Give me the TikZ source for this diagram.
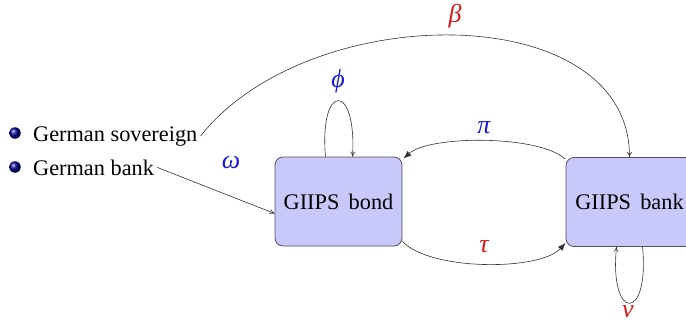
\documentclass[tikz,border=0pt]{standalone}
\usepackage{fontspec}
\setmainfont{Liberation Serif}
\usetikzlibrary{arrows.meta,shadings}
\definecolor{boxfill}{RGB}{200,200,250}
\definecolor{boxline}{RGB}{80,80,90}
\definecolor{lblue}{RGB}{25,25,215}
\definecolor{lred}{RGB}{215,25,25}
\tikzset{
  state/.style={draw=boxline, fill=boxfill, rounded corners=8pt, line width=0.8pt,
    minimum width=127pt, minimum height=89pt, inner sep=0pt, font=\fontsize{22.3}{26}\selectfont},
  item/.style={inner sep=3pt, font=\fontsize{22.3}{26}\selectfont},
  bullball/.style={circle, inner sep=0pt, minimum size=11.5pt, shading=ball, ball color=blue!55!black},
  edge/.style={draw=black!80, line width=0.6pt},
  thin arrow/.style={edge, -{To[length=5pt,width=5pt]}},
  fill arrow/.style={edge, -{Latex[length=8pt,width=6pt]}},
  glabel/.style={inner sep=0pt, font=\fontsize{26}{30}\selectfont\itshape},
}
\begin{document}
\begin{tikzpicture}[x=1pt,y=-1pt]
\useasboundingbox (0,0) rectangle (686,324);
% bullets and texts
\node[bullball] (b1) at (15,133) {};
\node[bullball] (b2) at (15,167) {};
\node[item, anchor=base west] (gs) at (30,141) {German sovereign};
\node[item, anchor=base west] (gb) at (30,175) {German bank};
% boxes
\node[state] (bond) at (338.5,201.5) {GIIPS\, bond};
\node[state] (bank) at (629.5,202) {GIIPS\, bank};
% coordinates on boxes
\coordinate (bondL) at ([yshift=-12]bond.west);
\coordinate (phiA) at ([xshift=-13]bond.north);
\coordinate (phiB) at ([xshift=14]bond.north);
\coordinate (nuA) at ([xshift=13]bank.south);
\coordinate (nuB) at ([xshift=-13]bank.south);
\coordinate (piA) at ([yshift=-2,xshift=-0.5]bank.north west);
\coordinate (piB) at ([yshift=-2,xshift=1]bond.north east);
\coordinate (tauA) at ([yshift=5]bond.south east);
\coordinate (tauB) at ([yshift=4]bank.south west);
% connectors
\draw[thin arrow] (gb.east) -- (bondL);
\draw[thin arrow] (gs.east) .. controls (310,-2) and (629.5,-2) .. (bank.north);
\draw[thin arrow] (phiA) .. controls (319,82) and (357,82) .. (phiB);
\draw[thin arrow] (nuA) .. controls (650,322) and (609,322) .. (nuB);
\draw[fill arrow] (piA) .. controls (540,135) and (430,135) .. (piB);
\draw[fill arrow] (tauA) .. controls (430,271) and (540,271) .. (tauB);
% labels
\node[glabel, text=lblue] (lomega) at (231,163) {ω};
\node[glabel, text=lblue] (lphi) at (338,81) {ϕ};
\node[glabel, text=lblue] (lpi) at (484,128) {π};
\node[glabel, text=lred] (ltau) at (484,247) {τ};
\node[glabel, text=lred] (lbeta) at (455,16) {β};
\node[glabel, text=lred] (lnu) at (628,312) {ν};
\end{tikzpicture}
\end{document}
